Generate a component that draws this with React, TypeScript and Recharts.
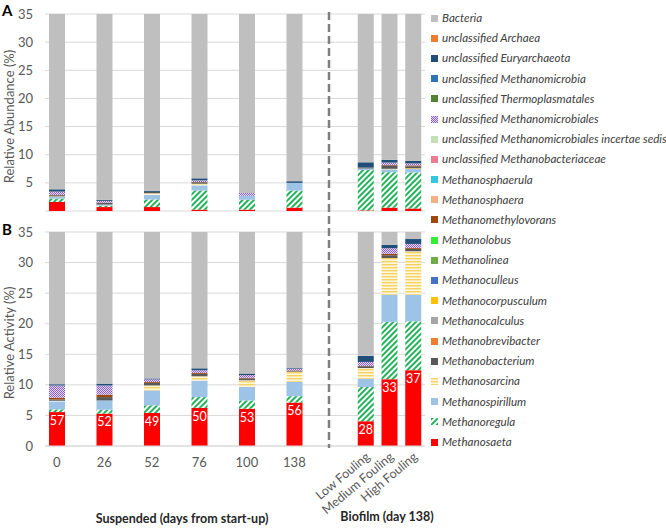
import { Bar, BarChart, CartesianGrid, LabelList, XAxis, YAxis } from "recharts";

const FONT = "Lato, 'Open Sans', sans-serif";
const TICK_COLOR = "#595959";

// x axis slots: blank slots give the gaps between the suspended samples
const axisSlots = [
  "0", "", "26", "", "52", "", "76", "", "100", "", "138", "", "",
  "Low Fouling", "Medium Fouling", "High Fouling",
];

// legend order, top to bottom
const legendTaxa = [
  { name: "Bacteria", fill: "#BFBFBF" },
  { name: "unclassified Archaea", fill: "#ED7D31" },
  { name: "unclassified Euryarchaeota", fill: "#1F4E79" },
  { name: "unclassified Methanomicrobia", fill: "#2E75B6" },
  { name: "unclassified Thermoplasmatales", fill: "#548235" },
  { name: "unclassified Methanomicrobiales", fill: "url(#pat-check)" },
  { name: "unclassified Methanomicrobiales incertae sedis", fill: "#C5E0B4" },
  { name: "unclassified Methanobacteriaceae", fill: "#EE7B91" },
  { name: "Methanosphaerula", fill: "#34C6E0" },
  { name: "Methanosphaera", fill: "#F4B183" },
  { name: "Methanomethylovorans", fill: "#9E480E" },
  { name: "Methanolobus", fill: "#33EE33" },
  { name: "Methanolinea", fill: "#70AD47" },
  { name: "Methanoculleus", fill: "#4472C4" },
  { name: "Methanocorpusculum", fill: "#FFC000" },
  { name: "Methanocalculus", fill: "#A5A5A5" },
  { name: "Methanobrevibacter", fill: "#ED7D31" },
  { name: "Methanobacterium", fill: "#595959" },
  { name: "Methanosarcina", fill: "url(#pat-stripe)" },
  { name: "Methanospirillum", fill: "#9DC3E6" },
  { name: "Methanoregula", fill: "url(#pat-hatch)" },
  { name: "Methanosaeta", fill: "#FF0000" },
];

// samples: 0, 26, 52, 76, 100, 138, Low, Medium, High fouling
const saetaAbundance = [1.6, 0.7, 0.7, 0.25, 0.25, 0.6, 0.1, 0.6, 0.45];
const regulaAbundance = [0.6, 0.25, 1.35, 3.4, 1.75, 3.05, 7.2, 6.3, 6.4];
const spirillumAbundance = [0.3, 0.2, 0.8, 0.9, 0.7, 1.35, 0.25, 0.5, 0.6];
const sarcinaAbundance = [0.1, 0, 0.3, 0.3, 0, 0, 0, 0.1, 0.15];
const bacteriumAbundance = [0.2, 0.3, 0.25, 0.25, 0, 0, 0.2, 0.6, 0.35];
const methylovoransAbundance = [0.05, 0.05, 0, 0.05, 0, 0, 0, 0.1, 0.15];
const microbialesAbundance = [0.6, 0.3, 0, 0.3, 0.5, 0, 0, 0.4, 0.35];
const euryAbundance = [0.4, 0.2, 0.2, 0.35, 0, 0.3, 0.9, 0.5, 0.45];
const bacteriaAbundance = [96.1, 98.0, 96.4, 94.2, 96.8, 94.7, 91.3, 90.9, 91.1];

const saetaActivity = [5.55, 5.3, 5.4, 6.25, 6.1, 7.1, 4.05, 10.9, 12.4];
const regulaActivity = [0.45, 0.65, 1.25, 1.75, 1.35, 1.05, 5.6, 9.4, 8.0];
const spirillumActivity = [1.3, 1.5, 2.45, 2.7, 2.2, 2.35, 1.35, 4.45, 4.35];
const sarcinaActivity = [0.1, 0, 0.8, 0.7, 1.1, 1.65, 1.75, 6.0, 7.1];
const bacteriumActivity = [0.2, 0.55, 0.4, 0.4, 0.3, 0.1, 0.3, 0.45, 0.4];
const methylovoransActivity = [0.3, 0.4, 0.15, 0.15, 0.1, 0.1, 0.05, 0.25, 0.15];
const microbialesActivity = [2.0, 1.5, 0.45, 0.45, 0.45, 0.3, 0.65, 0.9, 0.65];
const euryActivity = [0.2, 0.3, 0.15, 0.3, 0.25, 0.1, 1.0, 0.55, 0.8];
const bacteriaActivity = [89.9, 89.8, 88.9, 87.3, 88.2, 87.2, 85.2, 67.1, 66.1];

// Methanosaeta share of archaeal activity (%), printed in the red bars
const saetaShare = [57, 52, 49, 50, 53, 56, 28, 33, 37];

// stacked bottom to top
const series = [
  { name: "Methanosaeta", a: saetaAbundance, b: saetaActivity },
  { name: "Methanoregula", a: regulaAbundance, b: regulaActivity },
  { name: "Methanospirillum", a: spirillumAbundance, b: spirillumActivity },
  { name: "Methanosarcina", a: sarcinaAbundance, b: sarcinaActivity },
  { name: "Methanobacterium", a: bacteriumAbundance, b: bacteriumActivity },
  { name: "Methanomethylovorans", a: methylovoransAbundance, b: methylovoransActivity },
  { name: "unclassified Methanomicrobiales", a: microbialesAbundance, b: microbialesActivity },
  { name: "unclassified Euryarchaeota", a: euryAbundance, b: euryActivity },
  { name: "Bacteria", a: bacteriaAbundance, b: bacteriaActivity },
];

const yTicks = [0, 5, 10, 15, 20, 25, 30, 35];

function fillOf(name: string) {
  return legendTaxa.find((t) => t.name === name)?.fill ?? "#ccc";
}

function buildRows(which: "a" | "b") {
  let k = 0;
  return axisSlots.map((label, i) => {
    const row: Record<string, any> = { key: `s${i}`, label };
    if (label) {
      series.forEach((s) => (row[s.name] = s[which][k]));
      if (which === "b") row.share = saetaShare[k];
      k++;
    }
    return row;
  });
}

const abundanceRows = buildRows("a");
const activityRows = buildRows("b");

function Patterns() {
  return (
    <svg width={0} height={0} style={{ position: "absolute" }}>
      <defs>
        <pattern id="pat-hatch" width={4} height={4} patternUnits="userSpaceOnUse" patternTransform="rotate(45)">
          <rect width={4} height={4} fill="#FFFFFF" />
          <rect width={2} height={4} fill="#22B35A" />
        </pattern>
        <pattern id="pat-stripe" width={4} height={3} patternUnits="userSpaceOnUse">
          <rect width={4} height={3} fill="#FFF6D5" />
          <rect width={4} height={1.4} fill="#F3D26A" />
        </pattern>
        <pattern id="pat-check" width={2} height={2} patternUnits="userSpaceOnUse">
          <rect width={2} height={2} fill="#E4D8F4" />
          <rect width={1} height={1} fill="#8B60C8" />
          <rect x={1} y={1} width={1} height={1} fill="#8B60C8" />
        </pattern>
      </defs>
    </svg>
  );
}

function yTitle(text: string) {
  return (props: any) => {
    const vb = props.viewBox;
    const cx = vb.x + 9;
    const cy = vb.y + vb.height / 2 + 4;
    return (
      <text
        x={cx}
        y={cy}
        transform={`rotate(-90 ${cx} ${cy})`}
        textAnchor="middle"
        dominantBaseline="central"
        fontSize={13}
        fontFamily={FONT}
        fill={TICK_COLOR}
      >
        {text}
      </text>
    );
  };
}

function SlotTick(props: any) {
  const { x, y, payload } = props;
  const label = axisSlots[Number(String(payload.value).slice(1))];
  if (!label) return null;
  if (label.includes("Fouling")) {
    const ax = x + 5;
    const ay = y;
    return (
      <text
        x={ax}
        y={ay}
        transform={`rotate(-40 ${ax} ${ay})`}
        textAnchor="end"
        fontSize={12.5}
        fontFamily={FONT}
        fill={TICK_COLOR}
      >
        {label}
      </text>
    );
  }
  return (
    <text x={x} y={y} dy="0.71em" textAnchor="middle" fontSize={13} fontFamily={FONT} fill={TICK_COLOR}>
      {label}
    </text>
  );
}

function StackBars({ withShare }: { withShare?: boolean }) {
  return (
    <>
      {series.map((s) => (
        <Bar
          key={s.name}
          dataKey={s.name}
          stackId="st"
          fill={fillOf(s.name)}
          isAnimationActive={false}
        >
          {withShare && s.name === "Methanosaeta" ? (
            <LabelList
              dataKey="share"
              position="insideTop"
              offset={4}
              fill="#FFFFFF"
              fontSize={12.5}
              fontFamily={FONT}
            />
          ) : null}
        </Bar>
      ))}
    </>
  );
}

const tickStyle = { fontSize: 13, fill: TICK_COLOR, fontFamily: FONT };

export default function App() {
  return (
    <div
      style={{
        position: "absolute",
        left: 0,
        top: 0,
        width: 666,
        height: 530,
        background: "#fff",
        fontFamily: FONT,
        overflow: "hidden",
      }}
    >
      <Patterns />

      <div style={{ position: "absolute", left: 0, top: 0 }}>
        <BarChart width={430} height={215} data={abundanceRows} barSize={16} margin={{ top: 14, right: 5, bottom: 4, left: 0 }}>
          <CartesianGrid vertical={false} stroke="#D9D9D9" />
          <XAxis dataKey="key" hide />
          <YAxis
            domain={[0, 35]}
            ticks={yTicks}
            allowDataOverflow
            width={45}
            axisLine={false}
            tickLine={false}
            tickSize={6}
            tickMargin={6}
            tick={tickStyle}
            label={yTitle("Relative Abundance (%)")}
          />
          {StackBars({})}
        </BarChart>
      </div>

      <div style={{ position: "absolute", left: 0, top: 216 }}>
        <BarChart width={430} height={314} data={activityRows} barSize={16} margin={{ top: 16, right: 5, bottom: 0, left: 0 }}>
          <CartesianGrid vertical={false} stroke="#D9D9D9" />
          <XAxis
            dataKey="key"
            interval={0}
            height={84}
            axisLine={{ stroke: "#D9D9D9" }}
            tickLine={false}
            tickSize={6}
            tickMargin={6}
            tick={SlotTick}
          />
          <YAxis
            domain={[0, 35]}
            ticks={yTicks}
            allowDataOverflow
            width={45}
            axisLine={false}
            tickLine={false}
            tickSize={6}
            tickMargin={6}
            tick={tickStyle}
            label={yTitle("Relative Activity (%)")}
          />
          {StackBars({ withShare: true })}
        </BarChart>
      </div>

      {/* dashed separator between suspended and biofilm samples, spans both panels */}
      <svg width={666} height={530} style={{ position: "absolute", left: 0, top: 0, pointerEvents: "none" }}>
        <line x1={329} x2={329} y1={12} y2={448} stroke="#7F7F7F" strokeWidth={2.5} strokeDasharray="8 4" />
      </svg>

      <div style={{ position: "absolute", left: 2, top: 1, fontSize: 15, fontWeight: 700, color: "#000" }}>A</div>
      <div style={{ position: "absolute", left: 2, top: 220, fontSize: 15, fontWeight: 700, color: "#000" }}>B</div>

      <div style={{ position: "absolute", left: 0, width: 364, top: 511, textAlign: "center", fontSize: 12.5, fontWeight: 700, color: "#262626" }}>
        Suspended (days from start-up)
      </div>
      <div style={{ position: "absolute", left: 337, width: 100, top: 509, textAlign: "center", fontSize: 12.5, fontWeight: 700, color: "#262626", whiteSpace: "nowrap" }}>
        Biofilm (day 138)
      </div>

      <div style={{ position: "absolute", left: 431, top: 8 }}>
        {legendTaxa.map((t) => (
          <div
            key={t.name}
            style={{
              height: 20.2,
              lineHeight: "20.2px",
              display: "flex",
              alignItems: "center",
              whiteSpace: "nowrap",
              fontSize: 11.6,
              fontStyle: "italic",
              color: "#404040",
            }}
          >
            <svg width={7} height={7} style={{ marginRight: 4, flex: "none" }}>
              <rect width={7} height={7} fill={t.fill} />
            </svg>
            {t.name}
          </div>
        ))}
      </div>
    </div>
  );
}
